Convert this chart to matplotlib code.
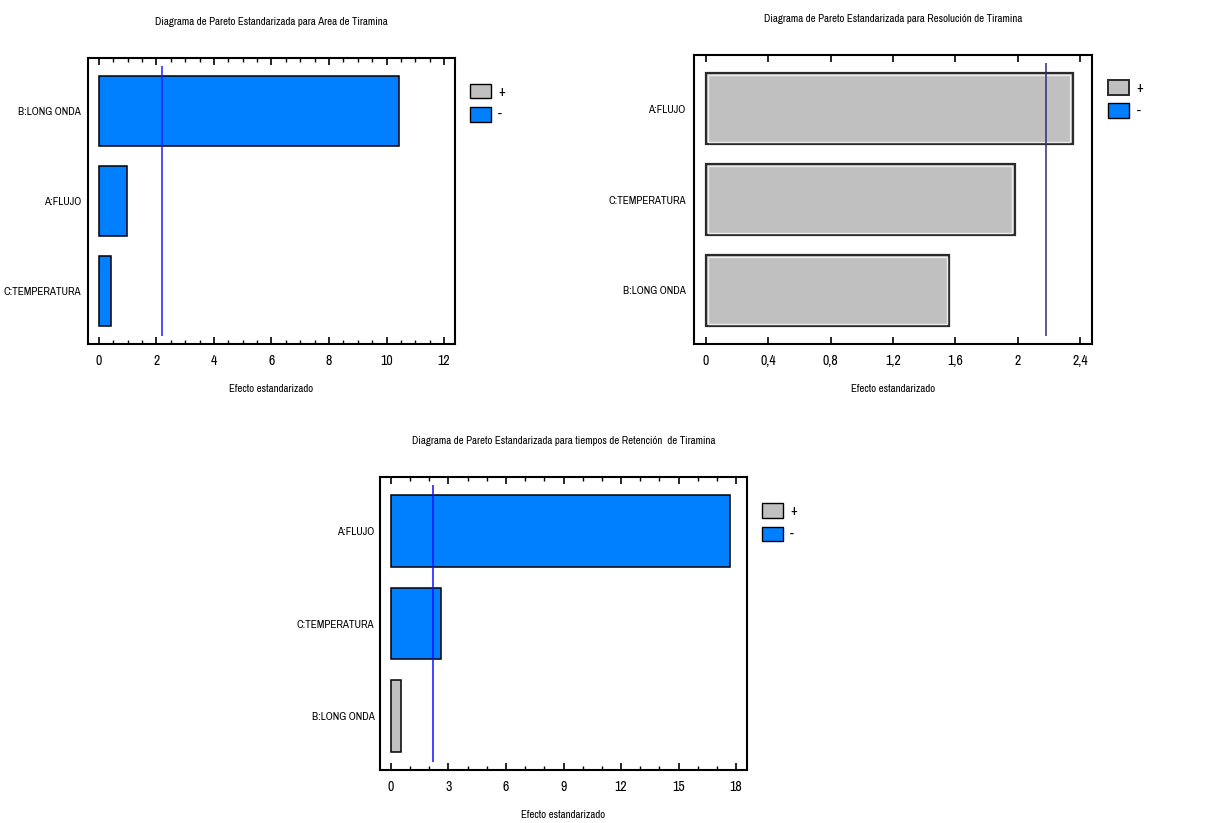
import matplotlib
matplotlib.use('Agg')
import matplotlib.pyplot as plt
from matplotlib.patches import Patch
from matplotlib.ticker import MultipleLocator

plt.rcParams['font.family'] = ['Archivo Narrow', 'PT Sans Narrow', 'Liberation Sans', 'DejaVu Sans']

# --- datos ---
factors_area = ['B:LONG ONDA', 'A:FLUJO', 'C:TEMPERATURA']
effects_area = [10.45, 0.98, 0.42]
signs_area = ['-', '-', '-']
crit_area = 2.18
xticks_area = [0, 2, 4, 6, 8, 10, 12]
xticklabels_area = ['0', '2', '4', '6', '8', '10', '12']

factors_res = ['A:FLUJO', 'C:TEMPERATURA', 'B:LONG ONDA']
effects_res = [2.353, 1.98, 1.56]
signs_res = ['+', '+', '+']
crit_res = 2.18
xticks_res = [0, 0.4, 0.8, 1.2, 1.6, 2.0, 2.4]
xticklabels_res = ['0', '0,4', '0,8', '1,2', '1,6', '2', '2,4']

factors_ret = ['A:FLUJO', 'C:TEMPERATURA', 'B:LONG ONDA']
effects_ret = [17.68, 2.62, 0.54]
signs_ret = ['-', '-', '+']
crit_ret = 2.17
xticks_ret = [0, 3, 6, 9, 12, 15, 18]
xticklabels_ret = ['0', '3', '6', '9', '12', '15', '18']

BLUE = '#0080ff'
GRAY = '#c0c0c0'


def pareto(ax, factors, effects, signs, crit, xticks, xticklabels, xlim,
           minor, title, line_color, soft=False, ypad=4, leg_y=0.91):
    pos = list(range(len(factors)))
    colors = [GRAY if s == '+' else BLUE for s in signs]
    h = 0.78
    if soft:
        ax.barh(pos, effects, height=h, color=colors, edgecolor='#2a2a2a', linewidth=1.6, zorder=2)
        # linea interior clara
        dx = (xlim[1] - xlim[0]) * 0.006
        ax.barh(pos, [e - 2 * dx for e in effects], left=dx, height=h - 0.05,
                color='none', edgecolor='#ececec', linewidth=1.0, zorder=3)
    else:
        ax.barh(pos, effects, height=h, color=colors, edgecolor='black', linewidth=1.1, zorder=2)
    ax.vlines(crit, -0.5, 2.5, color=line_color, linewidth=1.1, zorder=4)
    ax.set_xlim(*xlim)
    ax.set_ylim(2.59, -0.59)
    ax.set_yticks(pos)
    ax.set_yticklabels(factors, fontsize=8)
    ax.set_xticks(xticks)
    ax.set_xticklabels(xticklabels, fontsize=10)
    if minor:
        ax.xaxis.set_minor_locator(MultipleLocator(minor))
    ax.tick_params(axis='x', which='major', direction='in', top=True, bottom=True,
                   length=5, width=1.2, pad=7.5)
    ax.tick_params(axis='x', which='minor', direction='in', top=True, bottom=True,
                   length=3, width=1.0)
    ax.tick_params(axis='y', length=0, pad=ypad)
    for sp in ax.spines.values():
        sp.set_linewidth(1.5)
    ax.set_title(title, fontsize=7.8, pad=24)
    ax.set_xlabel('Efecto estandarizado', fontsize=7.8, labelpad=11)
    if soft:
        hp = Patch(facecolor=GRAY, edgecolor='#2a2a2a', linewidth=1.4, label='+')
    else:
        hp = Patch(facecolor=GRAY, edgecolor='black', linewidth=1.0, label='+')
    hm = Patch(facecolor=BLUE, edgecolor='black', linewidth=1.0, label='-')
    ax.legend(handles=[hp, hm], loc='upper left', bbox_to_anchor=(1.04, leg_y),
              frameon=False, fontsize=10, handlelength=1.5, handleheight=1.25,
              handletextpad=0.55, labelspacing=0.6, borderpad=0, borderaxespad=0)


fig = plt.figure(figsize=(12.21, 8.23), dpi=100)
ax1 = fig.add_axes([88 / 1221, 1 - 344 / 823, 367 / 1221, 286 / 823])
ax2 = fig.add_axes([694 / 1221, 1 - 344 / 823, 398 / 1221, 289 / 823])
ax3 = fig.add_axes([380 / 1221, 1 - 770 / 823, 367 / 1221, 293 / 823])

pareto(ax1, factors_area, effects_area, signs_area, crit_area, xticks_area,
       xticklabels_area, (-0.38, 12.38), 0.5,
       'Diagrama de Pareto Estandarizada para Area de Tiramina', '#2020ff', ypad=5)
pareto(ax2, factors_res, effects_res, signs_res, crit_res, xticks_res,
       xticklabels_res, (-0.077, 2.477), None,
       'Diagrama de Pareto Estandarizada para Resolución de Tiramina', '#2c2c80',
       soft=True, ypad=6, leg_y=0.913)
pareto(ax3, factors_ret, effects_ret, signs_ret, crit_ret, xticks_ret,
       xticklabels_ret, (-0.57, 18.57), 1,
       'Diagrama de Pareto Estandarizada para tiempos de Retención  de Tiramina', '#1010ff', ypad=4)

fig.savefig('out.png', dpi=100)
